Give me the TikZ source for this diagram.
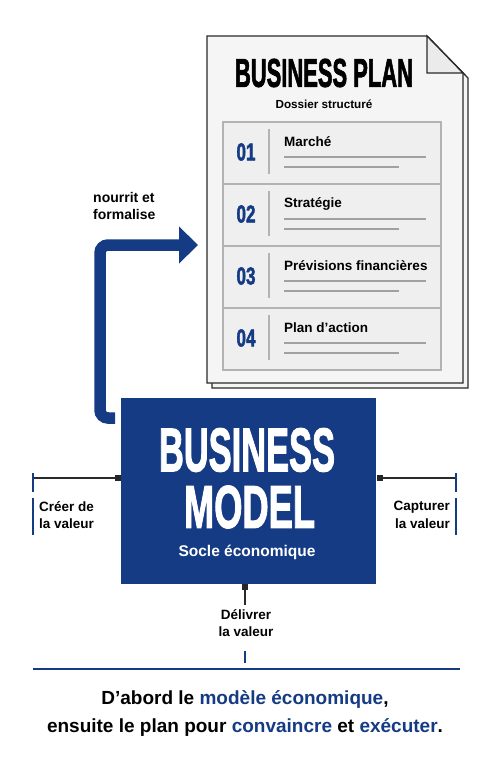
\documentclass[tikz,border=0pt]{standalone}
\usepackage{fontspec}
\usepackage{graphicx}
\setmainfont{Liberation Sans}
\newfontfamily\heavyfont[FakeBold=2.2]{Liberation Sans Bold}
\usetikzlibrary{arrows.meta,calc}
\definecolor{navy}{HTML}{153B84}
\definecolor{pagefill}{HTML}{F5F5F5}
\definecolor{tablefill}{HTML}{EFEFEF}
\definecolor{rulegray}{HTML}{B3B3B3}
\definecolor{inkgray}{HTML}{2A2A2A}
\newcommand{\fitbox}[3]{\resizebox{#1}{#2}{\heavyfont #3}}
\tikzset{
  txt/.style={inner sep=0pt, font=\bfseries},
  pageline/.style={draw=inkgray, line width=1.3pt, line join=miter},
  rowline/.style={draw=rulegray, line width=1.2pt},
  textline/.style={draw=rulegray!90!black, line width=1.3pt},
  navybar/.style={draw=navy, line width=1.6pt},
  blackline/.style={draw=inkgray, line width=1.2pt},
  portsq/.style={fill=black!85, inner sep=0pt, minimum size=6.5pt},
  lbl/.style={inner sep=0pt, font=\bfseries\fontsize{13.5}{17.5}\selectfont, align=left},
}
\begin{document}
\begin{tikzpicture}[x=1pt,y=-1pt]
\useasboundingbox (0,0) rectangle (491,768);
\fill[white] (0,0) rectangle (491,768);

% --- document pages
\path[pageline, fill=pagefill] (212,41) -- (432,41) -- (468,78) -- (468,388) -- (212,388) -- cycle;
\path[pageline, fill=pagefill] (207,36) -- (427,36) -- (463,73) -- (463,383) -- (207,383) -- cycle;
\path[pageline, fill=black!8] (427,36) -- (427,73) -- (463,73) -- cycle;
\coordinate (docleft) at (207,245);

\node[txt] (bptitle) at (324,73) {\fitbox{178pt}{28pt}{BUSINESS PLAN}};
\node[txt, font=\bfseries\fontsize{11.7}{14}\selectfont] (bpsub) at (324,104) {Dossier structuré};

% --- table
\path[rowline, fill=tablefill] (223,122) rectangle (441,370);
\foreach \k/\num/\ttl in {0/01/Marché, 1/02/Stratégie, 2/03/Prévisions financières, 3/04/Plan d’action}{
  \pgfmathsetmacro{\top}{122+62*\k}
  \ifnum\k>0 \draw[rowline] (223,\top) -- (441,\top); \fi
  \node[txt, text=navy] (num\k) at (246,\top+30) {\fitbox{19pt}{17pt}{\num}};
  \draw[rowline] (269,\top+7) -- (269,\top+52);
  \node[txt, anchor=west, font=\bfseries\fontsize{13.5}{16}\selectfont] (row\k) at (284,\top+20) {\ttl};
  \draw[textline] (284,\top+35) -- (426,\top+35);
  \draw[textline] (284,\top+45) -- (399,\top+45);
}

% --- business model box
\node[fill=navy, minimum width=255pt, minimum height=186pt, inner sep=0pt] (bm) at (248.5,491) {};
\node[txt, text=white] (bmline1) at (247,450) {\fitbox{176pt}{43pt}{BUSINESS}};
\node[txt, text=white] (bmline2) at (249.5,507) {\fitbox{131pt}{42pt}{MODEL}};
\node[txt, text=white, font=\bfseries\fontsize{15.5}{18}\selectfont] (bmsub) at (247,552) {Socle économique};

% --- feeding arrow
\coordinate (astart) at (115,418);
\coordinate (atip) at (198,245);
\draw[navy, line width=11.5pt, rounded corners=8pt, -{Triangle[length=19pt 0 0,width=36pt 0 0]}]
  (astart) -- (100,418) -- (100,245) -- (atip);
\node[txt, anchor=north west, align=left, font=\bfseries\fontsize{14}{17.5}\selectfont] (feedlbl) at (93,192) {nourrit et\\formalise};

% --- left port
\node[portsq] (pl) at (118,478) {};
\coordinate (lend) at (33,478);
\draw[blackline] (lend) -- (pl);
\draw[navybar] (33,473) -- (33,492);
\draw[navybar] (33,498) -- (33,535);
\node[lbl, anchor=north west] (lcreate) at (39,501) {Créer de\\la valeur};

% --- right port
\node[portsq] (pr) at (380,478) {};
\coordinate (rend) at (456,478);
\draw[blackline] (pr) -- (rend);
\draw[navybar] (456,473) -- (456,492);
\draw[navybar] (456,498) -- (456,535);
\node[lbl, anchor=north east, align=right] (rcapture) at (450,501) {Capturer\\la valeur};

% --- bottom port
\node[portsq] (pb) at (245,587) {};
\coordinate (bend) at (245,605);
\draw[blackline] (pb) -- (bend);
\node[lbl, align=center, anchor=north] (bdeliver) at (246,609) {Délivrer\\la valeur};
\draw[navybar] (245,651) -- (245,663);

% --- bottom rule and message
\draw[navy, line width=1.6pt] (33,669) -- (460,669);
\node[txt, align=center, font=\bfseries\fontsize{19}{28}\selectfont] (msg) at (245,713)
  {D’abord le \textcolor{navy}{modèle économique},\\ensuite le plan pour \textcolor{navy}{convaincre} et \textcolor{navy}{exécuter}.};
\end{tikzpicture}
\end{document}
